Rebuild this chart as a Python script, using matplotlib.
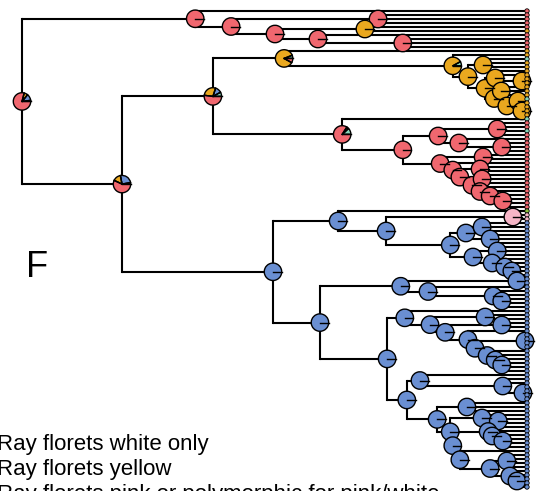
import numpy as np
import matplotlib
matplotlib.use("Agg")
import matplotlib.pyplot as plt
from matplotlib.patches import Wedge, Circle
from matplotlib.transforms import ScaledTranslation

# Tree topology in Newick form: tips carry their ray-floret state code,
# internal nodes carry a name used to look up their depth
tree_newick = """
(
 (r,((r,r,r)C,((r,y)F,(r,(r,r,r)G)E)D)B)A,
 (
  (
   (y,(y,((t,y,y,y)Y4,((y,(y,y)Y6b)Y6,((y,y,y)Y7,((t,y)Y10,(y,y,y)Y11)Y9)Y8)Y5)Y3)Y2)Y1,
   (t,(((r,r,t,r)R3a,(r,(r,r,r)R3c)R3b)R3,((r,r)R5,(r,((r,r)R8,((r,r,r)R10,(r,(r,(r,r,r,r)R13)R12)R11)R9)R7)R6)R4)R2)R
  )Y,
  (
   (g,((p,p)P,(((b,b,b)B1e,(b,b,b)B1f)B1c,((b,b,b)B1h,(b,(b,(b,b,b)B1j)B1i)B1g)B1d)B1b)B1a)B1,
   (
    ((b,b)B3a,(b,(b,(b,b,b,b)B3d)B3c)B3b)B3,
    (
     (b,((b,b)B5b,((b,b)B5e,(b,((b,b,b,b)B5g,(b,(b,(b,b,b,b)B5j)B5i)B5h)B5f)B5d)B5c)B5a)B5,
     (
      (b,(b,b,(b,b,b,b)B7b)B7a)B7,
      ((b,b,b)B8a,((b,(b,b)B8e)B8c,((b,(b,(b,b,b,b)B8i)B8h)B8f,(b,((b,b,b,b)B8k,(b,(b,b,b,b)B8n)B8l)B8j)B8g)B8d)B8b)B8
     )B6
    )B4
   )B2
  )BLUE
 )BIG
)root;
"""

# node depth as percent of total tree height (tips sit at 100)
node_depth = {
    "root": 0.0, "A": 34.3, "B": 41.4, "C": 70.5, "D": 50.1, "F": 67.9, "E": 58.6, "G": 75.4,
    "BIG": 19.8, "Y": 37.8, "Y1": 51.9, "Y2": 85.3, "Y3": 88.3, "Y4": 91.3, "Y5": 91.7,
    "Y6": 93.7, "Y6b": 99.0, "Y8": 93.5, "Y7": 94.9, "Y9": 96.0, "Y10": 98.2, "Y11": 99.0,
    "R": 63.4, "R2": 75.4, "R3": 82.4, "R3a": 94.1, "R3b": 86.5, "R3c": 95.0, "R4": 82.8,
    "R5": 91.3, "R6": 85.3, "R7": 86.7, "R8": 90.7, "R9": 89.1, "R10": 91.1, "R11": 90.7,
    "R12": 92.7, "R13": 95.2,
    "BLUE": 49.7, "B1": 62.6, "B1a": 72.1, "P": 97.2, "B1b": 84.8, "B1c": 87.9, "B1e": 91.1,
    "B1f": 92.7, "B1d": 89.3, "B1h": 94.1, "B1g": 93.1, "B1i": 95.6, "B1j": 97.0,
    "B2": 59.0, "B3": 75.0, "B3a": 98.0, "B3b": 80.4, "B3c": 93.3, "B3d": 95.0,
    "B4": 72.3, "B5": 75.8, "B5a": 80.8, "B5b": 91.7, "B5c": 83.8, "B5e": 95.0, "B5d": 88.3,
    "B5f": 89.7, "B5g": 99.6, "B5h": 92.1, "B5i": 93.7, "B5j": 95.0,
    "B6": 76.2, "B7": 78.8, "B7a": 95.2, "B7b": 99.2, "B8": 82.2, "B8a": 88.1, "B8b": 84.8,
    "B8c": 91.1, "B8e": 94.3, "B8d": 85.3, "B8f": 92.3, "B8h": 93.1, "B8i": 95.2,
    "B8g": 86.7, "B8j": 92.7, "B8k": 96.0, "B8l": 96.6, "B8n": 98.0,
}

# ancestral state probabilities for the nodes that are not certain
node_probs = {
    "root": {"t": 0.02, "b": 0.12, "y": 0.07, "r": 0.79},
    "BIG": {"t": 0.03, "b": 0.25, "y": 0.15, "r": 0.57},
    "Y": {"t": 0.08, "b": 0.12, "y": 0.28, "r": 0.52},
    "Y1": {"t": 0.06, "y": 0.86, "r": 0.08},
    "Y2": {"t": 0.08, "y": 0.92},
    "R": {"t": 0.12, "y": 0.04, "r": 0.84},
}

state_order = ["t", "b", "y", "g", "p", "r"]
state_colors = {
    "r": "#F0676F",
    "y": "#EAA81F",
    "b": "#6A8FD2",
    "t": "#86D5B8",
    "g": "#8DC540",
    "p": "#F6B5C6",
}

legend_lines = [
    "Ray florets white only",
    "Ray florets yellow",
    "Ray florets pink or polymorphic for pink/white",
]
panel_label = "F"


def parse_newick(s):
    s = "".join(s.split())
    pos = 0

    def node():
        nonlocal pos
        children = []
        if s[pos] == "(":
            pos += 1
            children.append(node())
            while s[pos] == ",":
                pos += 1
                children.append(node())
            pos += 1
        start = pos
        while s[pos] not in ",();":
            pos += 1
        return {"name": s[start:pos], "children": children}

    return node()


tree = parse_newick(tree_newick)
tips = []


def layout(n):
    if not n["children"]:
        n["x"] = 100.0
        n["y"] = len(tips)
        tips.append(n)
        return [n["name"]]
    states = []
    for c in n["children"]:
        states += layout(c)
    n["x"] = node_depth[n["name"]]
    n["y"] = (n["children"][0]["y"] + n["children"][-1]["y"]) / 2
    n["tips"] = states
    return states


layout(tree)

fig = plt.figure(figsize=(5.4, 4.91), dpi=100)
ax = fig.add_axes([0, 0, 1, 1])
ax.axis("off")


def draw_branches(n):
    for c in n["children"]:
        ax.plot([n["x"], c["x"]], [c["y"], c["y"]], color="black", lw=1.5,
                solid_capstyle="butt", zorder=1)
        draw_branches(c)
    if n["children"]:
        ax.plot([n["x"], n["x"]], [n["children"][0]["y"], n["children"][-1]["y"]],
                color="black", lw=1.5, solid_capstyle="projecting", zorder=1)


def draw_pie(x, y, probs, r):
    # slices run counter-clockwise from 3 o'clock, each outlined in black
    tr = fig.dpi_scale_trans + ScaledTranslation(x, y, ax.transData)
    a = 0.0
    for s in state_order:
        p = probs.get(s, 0)
        if p <= 0:
            continue
        ax.add_patch(Wedge((0, 0), r, a, a + 360 * p, facecolor=state_colors[s],
                           edgecolor="black", lw=1.0, transform=tr, zorder=3))
        ang = np.deg2rad(a)
        ax.plot([0, r * np.cos(ang)], [0, r * np.sin(ang)], color="black", lw=1.0,
                transform=tr, zorder=3.5)
        a += 360 * p


def draw_nodes(n):
    if not n["children"]:
        return
    probs = node_probs.get(n["name"])
    if probs is None:
        major = max(set(n["tips"]), key=n["tips"].count)
        probs = {major: 1.0}
    draw_pie(n["x"], n["y"], probs, 0.087)
    for c in n["children"]:
        draw_nodes(c)


draw_branches(tree)
draw_nodes(tree)

# tip states as small circles
for t in tips:
    tr = fig.dpi_scale_trans + ScaledTranslation(t["x"], t["y"], ax.transData)
    ax.add_patch(Circle((0, 0), 0.022, facecolor=state_colors[t["name"]],
                        edgecolor="black", lw=0.6, transform=tr, zorder=4))

ax.set_xlim(-22 / 5.05, 518 / 5.05)
ax.set_ylim(120.0, -2.75)

fig.text(26 / 540, 1 - 277 / 491, panel_label, fontsize=26, family="Liberation Sans")
for i, line in enumerate(legend_lines):
    fig.text(-3 / 540, 1 - (450 + 25 * i) / 491, line, fontsize=16,
             family="Liberation Sans")

fig.savefig("out.png", dpi=100)
